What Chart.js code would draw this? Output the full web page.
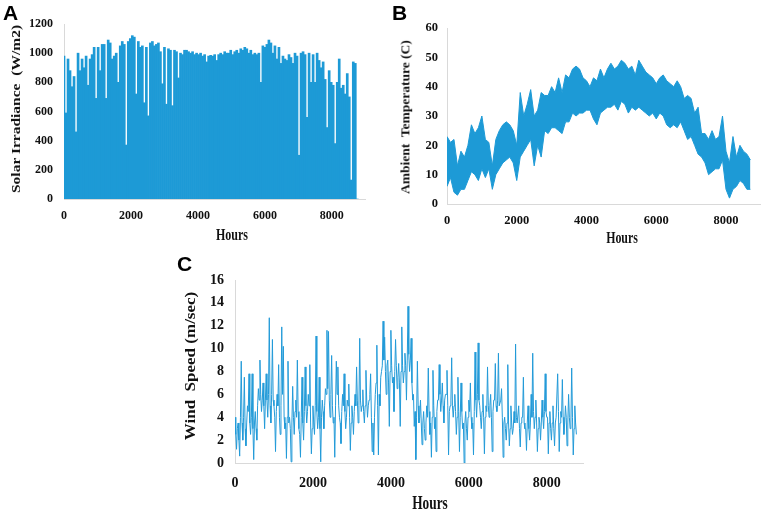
<!DOCTYPE html>
<html><head><meta charset="utf-8">
<script src="https://cdn.jsdelivr.net/npm/chart.js@4.4.1/dist/chart.umd.min.js"></script>
<style>
html,body{margin:0;padding:0;background:#fff;}
#wrap{position:relative;width:761px;height:510px;overflow:hidden;background:#fff;}
canvas{position:absolute;}
.t{position:absolute;font-family:'Liberation Serif','Times New Roman',serif;font-weight:bold;color:#111;white-space:pre;line-height:1;}
.p{position:absolute;font-family:'Liberation Sans',Arial,sans-serif;font-weight:bold;font-size:21px;line-height:1;color:#000;}
</style></head><body>
<div id="wrap">
<canvas id="cA" width="380" height="250" style="left:0;top:0"></canvas>
<canvas id="cB" width="381" height="250" style="left:380px;top:0"></canvas>
<canvas id="cC" width="420" height="260" style="left:170px;top:250px"></canvas>
<div class="p" style="left:3px;top:2px">A</div>
<div class="p" style="left:392px;top:2px">B</div>
<div class="p" style="left:177px;top:253px">C</div>
<div class="t" style="left:16px;top:109px;font-size:15.5px;transform:translate(-50%,-50%) scaleX(0.8) rotate(-90deg)">Solar Irradiance  (W/m2)</div>
<div class="t" style="left:232px;top:235px;font-size:16px;transform:translate(-50%,-50%) scaleX(0.75)">Hours</div>
<div class="t" style="left:406px;top:117px;font-size:13.5px;transform:translate(-50%,-50%) scaleX(0.85) rotate(-90deg)">Ambient  Temperature (C)</div>
<div class="t" style="left:622px;top:238px;font-size:16.5px;transform:translate(-50%,-50%) scaleX(0.72)">Hours</div>
<div class="t" style="left:191px;top:366px;font-size:17px;transform:translate(-50%,-50%) scaleX(0.8) rotate(-90deg)">Wind  Speed (m/sec)</div>
<div class="t" style="left:430px;top:502px;font-size:19px;transform:translate(-50%,-50%) scaleX(0.7)">Hours</div>
</div>
<script>
const SERIF = "'Liberation Serif','Times New Roman',serif";

// tick labels
const hourTicks = [0, 2000, 4000, 6000, 8000];
const solarTicks = [0, 200, 400, 600, 800, 1000, 1200];
const tempTicks = [0, 10, 20, 30, 40, 50, 60];
const windTicks = [0, 2, 4, 6, 8, 10, 12, 14, 16];

// A: solar irradiance, daily peak envelope every 60 h
const solarStep = 60;
const solarIrradiance = [
980,590,960,880,770,840,460,1000,880,960,
900,980,780,960,990,1040,690,1040,880,1060,
1060,690,1090,1070,960,980,1000,800,1050,1080,
1060,370,1080,1100,1120,1110,720,1080,1040,1050,
660,1040,570,1070,1080,1050,1060,1070,1010,790,
1040,650,1030,1020,640,1020,1010,830,1000,990,
1020,1020,1010,1000,1010,990,1000,990,1000,980,
990,940,980,985,980,990,950,990,1000,990,
1010,1000,1000,1020,990,1010,1020,1000,1030,1020,
1040,1030,1000,1020,990,1000,990,1000,800,1050,
1040,1060,1090,1070,1000,1050,960,1040,930,980,
960,950,990,970,930,1000,980,300,1000,1010,
990,560,1000,800,990,800,1000,950,900,940,
820,490,880,800,780,380,800,960,760,780,
720,860,700,130,940,930,0];

// B: ambient temperature, daily max / min envelope every 100 h
const tempStep = 100;
const tempUpper = [
23,21,22,13,18,16,20,27,24,26,
30,22,21,13,22,25,27,28,27,25,
20,38,30,34,39,30,32,38,37,37,
40,38,43,38,44,43,46,47,46,43,
42,40,43,42,46,43,46,48,46,47,
49,48,46,47,44,49,47,45,44,43,
41,43,44,42,41,40,42,40,36,37,
36,31,33,24,24,22,25,22,23,30,
18,14,23,16,20,18,17,15];
const tempLower = [
6,9,4,3,5,5,8,11,10,8,
12,9,12,5,10,12,14,15,16,14,
8,16,18,20,22,13,20,16,25,24,
26,26,25,24,28,28,31,30,31,31,
32,32,29,27,31,32,33,33,34,32,
35,34,31,33,32,33,32,31,30,31,
29,31,30,27,26,27,26,28,25,22,
23,20,17,16,14,10,11,12,12,15,
5,2,5,6,8,7,5,5];

// C: wind speed every 20 h
const windStep = 20;
const windSpeed = [
4.0,2.5,1.2,3.0,3.5,2.0,0.6,4.0,8.9,3.5,2.0,4.0,7.5,3.0,1.5,3.5,5.0,4.5,7.8,3.5,
2.5,4.0,7.8,3.0,0.3,3.5,4.5,3.0,2.0,5.0,6.5,5.5,9.0,6.0,4.5,5.5,7.0,5.0,3.0,5.5,
7.8,5.5,4.0,6.0,12.7,5.0,3.5,6.0,10.8,5.5,5.0,4.0,1.0,4.5,6.0,5.0,8.6,4.0,2.5,5.0,
11.9,6.0,10.2,4.0,3.0,3.5,0.4,4.0,8.9,3.5,4.0,3.0,0.1,3.5,6.7,4.0,2.5,4.5,5.5,4.0,
9.0,4.5,3.0,2.5,0.5,4.0,7.5,3.5,2.0,4.5,8.4,5.0,3.5,4.5,6.0,5.0,8.6,3.5,0.8,3.0,
5.0,3.5,2.5,5.0,11.1,4.5,3.0,4.0,7.5,3.0,0.1,4.0,5.5,4.5,3.0,5.0,6.5,6.0,11.6,6.5,
11.5,5.5,4.0,6.0,9.4,5.0,3.5,4.0,0.5,5.0,8.9,6.0,8.4,5.0,4.0,3.5,1.7,4.5,6.0,5.0,
7.8,4.5,3.0,4.0,5.5,5.0,6.9,4.0,1.1,3.5,5.0,4.0,2.5,4.5,6.0,5.0,8.4,5.5,3.5,5.0,
10.9,5.5,4.5,5.0,6.4,4.5,3.5,5.0,8.1,5.5,4.0,5.0,5.5,6.0,7.8,4.0,1.0,3.5,0.7,4.0,
6.0,7.0,10.3,5.0,0.7,6.0,5.0,7.5,8.0,8.5,12.4,9.0,11.0,8.0,6.0,8.5,9.0,7.0,3.2,8.0,
11.6,8.5,7.0,7.5,4.5,8.0,10.8,8.5,6.5,7.5,8.7,7.0,3.2,8.0,11.9,8.5,7.0,8.0,9.6,8.5,
5.5,9.0,13.7,9.5,8.0,9.0,10.9,7.0,5.5,6.0,3.2,4.5,0.3,4.0,8.9,5.0,3.5,4.0,5.5,3.5,
1.6,3.5,4.5,3.0,2.0,3.5,5.0,4.0,8.3,4.5,2.5,3.5,0.5,4.0,8.1,5.0,3.0,4.0,1.0,4.5,
5.5,5.5,8.6,6.0,4.5,5.5,7.0,5.0,3.5,5.5,6.0,6.0,8.1,5.0,0.7,4.5,5.0,5.5,9.2,5.0,
4.0,5.0,6.0,4.5,2.5,4.0,7.5,4.5,1.0,4.0,7.0,4.5,3.0,3.5,0.0,3.5,4.5,3.0,2.0,4.0,
5.5,4.5,7.0,4.0,3.0,3.5,0.7,4.5,9.7,5.5,4.0,6.0,10.5,5.5,5.0,4.0,3.0,4.5,6.0,4.0,
0.8,4.0,5.0,4.5,8.4,5.0,4.0,5.0,6.0,4.0,1.0,4.5,5.5,5.5,8.7,5.0,4.5,5.5,9.6,5.0,
5.0,5.5,6.5,4.0,0.5,3.5,4.0,3.0,2.0,3.5,8.6,3.5,1.5,3.0,5.0,3.5,2.5,3.0,4.5,3.5,
10.4,4.0,3.5,3.5,5.0,3.0,1.4,3.5,4.0,4.0,7.5,3.5,3.0,3.0,1.1,3.5,5.0,3.0,2.0,3.5,
6.0,4.0,9.6,4.5,3.0,4.0,5.5,3.5,1.0,3.0,4.0,3.5,2.0,3.5,5.5,4.0,3.0,4.5,7.8,4.5,
4.0,4.0,0.8,3.5,4.5,3.0,2.0,3.5,5.0,3.0,1.5,3.5,4.0,4.0,7.8,4.5,1.0,3.5,4.5,4.0,
7.3,4.0,2.5,3.5,5.0,4.0,1.5,3.5,6.0,4.0,3.0,3.5,8.3,4.0,0.7,3.0,5.0,3.5,2.5];

const BLUE = '#1d9ad6';

function pts(step, arr) { return arr.map((v, i) => ({ x: i * step, y: v })); }

function scales(o) {
  const tickFont = { family: SERIF, weight: 'bold', size: o.fs };
  const border = { display: true, color: '#d9d9d9', width: 1 };
  return {
    x: {
      type: 'linear', min: 0, max: o.xMax, offset: false,
      afterBuildTicks: s => { s.ticks = hourTicks.map(v => ({ value: v })); },
      ticks: { font: tickFont, color: '#111', padding: o.xPad, maxRotation: 0, autoSkip: false, callback: v => String(v) },
      grid: { display: false, drawTicks: false, offset: false },
      border: border,
      afterFit: s => { s.height = o.xH; }
    },
    y: {
      type: 'linear', min: o.yTicks[0], max: o.yTicks[o.yTicks.length - 1],
      afterBuildTicks: s => { s.ticks = o.yTicks.map(v => ({ value: v })); },
      ticks: { font: tickFont, color: '#111', padding: o.yPad, autoSkip: false, callback: v => String(v) },
      grid: { display: false, drawTicks: false },
      border: border,
      afterFit: s => { s.width = o.yW; }
    }
  };
}

function baseOptions(o) {
  return {
    responsive: false, animation: false, maintainAspectRatio: false,
    layout: { padding: { left: 0, top: o.top, right: o.right, bottom: 0 } },
    plugins: { legend: { display: false }, tooltip: { enabled: false } },
    elements: { point: { radius: 0 }, line: { tension: 0 } },
    scales: scales(o)
  };
}

new Chart(document.getElementById('cA'), {
  type: 'bar',
  data: { datasets: [{
    data: pts(solarStep, solarIrradiance),
    backgroundColor: BLUE, borderWidth: 0,
    barPercentage: 1, categoryPercentage: 1
  }] },
  options: baseOptions({ xMax: 8990, yTicks: solarTicks, fs: 12, xPad: 10, yPad: 11, xH: 51, yW: 64, top: 24, right: 15 })
});

new Chart(document.getElementById('cB'), {
  type: 'line',
  data: { datasets: [
    { data: pts(tempStep, tempUpper), borderColor: BLUE, borderWidth: 1, fill: false },
    { data: pts(tempStep, tempLower), borderColor: BLUE, backgroundColor: BLUE, borderWidth: 1, fill: '-1' }
  ] },
  options: baseOptions({ xMax: 8975, yTicks: tempTicks, fs: 12.5, xPad: 9, yPad: 9, xH: 46, yW: 67, top: 28, right: 1 })
});

new Chart(document.getElementById('cC'), {
  type: 'line',
  data: { datasets: [{
    data: pts(windStep, windSpeed),
    borderColor: '#229ad8', borderWidth: 1, fill: false
  }] },
  options: baseOptions({ xMax: 8930, yTicks: windTicks, fs: 14, xPad: 12, yPad: 11, xH: 47, yW: 65, top: 30, right: 7 })
});
</script>
</body></html>
